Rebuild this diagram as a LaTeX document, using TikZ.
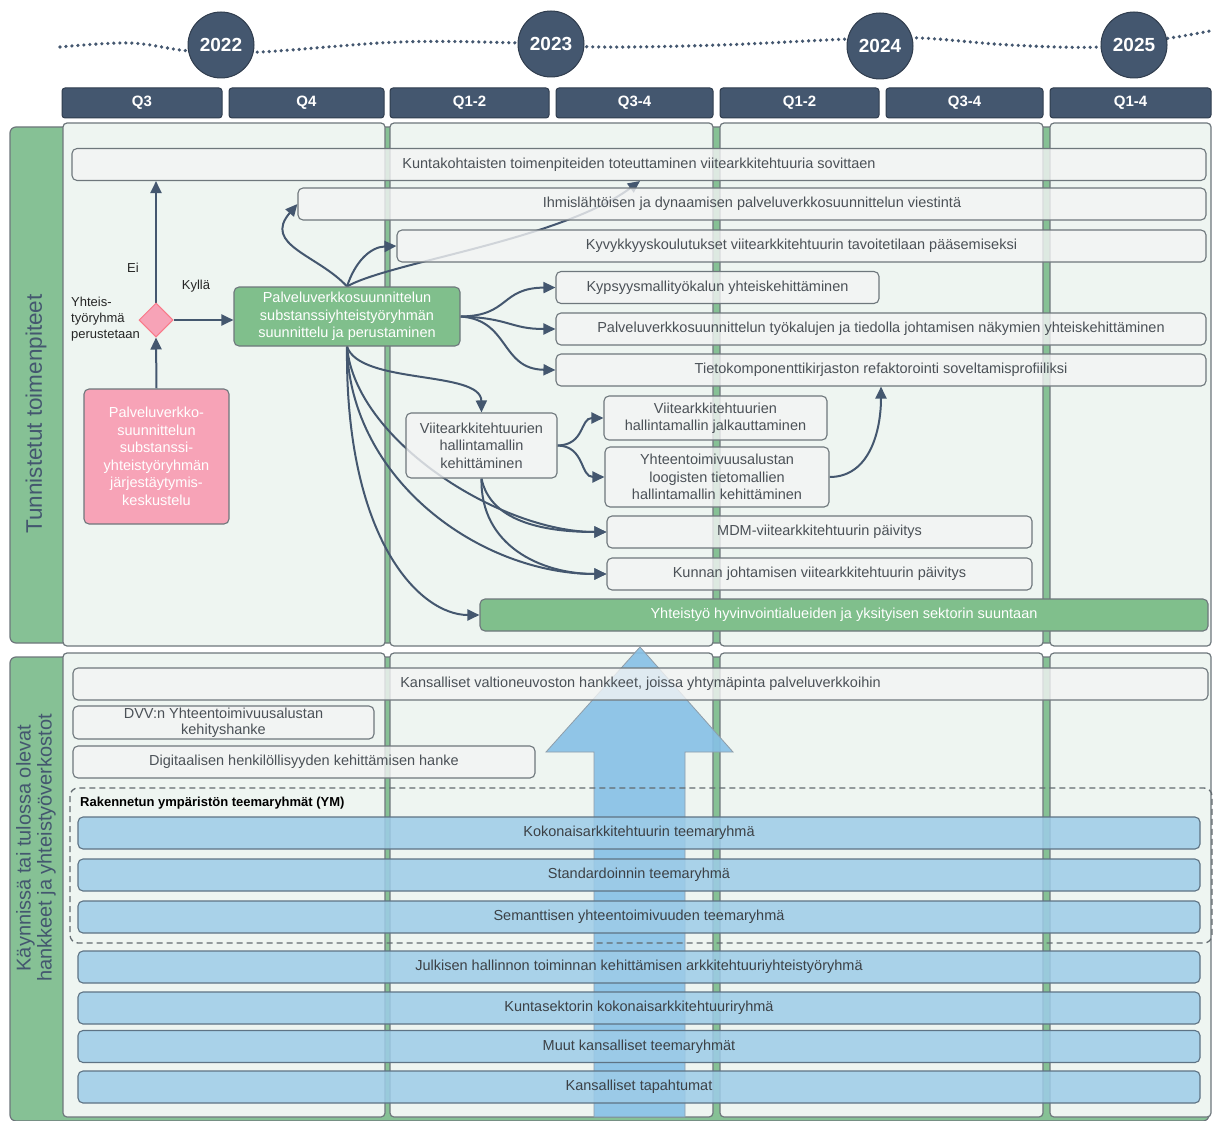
\documentclass[tikz,border=0pt]{standalone}
\usepackage{fontspec}
\setmainfont{Liberation Sans}
\usetikzlibrary{arrows.meta,shapes.geometric,positioning}
\definecolor{slate}{HTML}{44576F}
\definecolor{lanegreen}{HTML}{86C195}
\definecolor{panelfill}{HTML}{EEF5F1}
\definecolor{boxfill}{HTML}{F3F4F4}
\definecolor{edgegrey}{HTML}{6E777C}
\definecolor{txtgrey}{HTML}{4B5157}
\definecolor{taskgreen}{HTML}{80BF8C}
\definecolor{rose}{HTML}{F7A3B7}
\definecolor{skyblue}{HTML}{9DCCE8}
\definecolor{arrowblue}{HTML}{86C0E6}
\definecolor{blueedge}{HTML}{5E7384}
\pgfdeclarelayer{lanes}
\pgfdeclarelayer{links}
\pgfsetlayers{lanes,links,main}
\tikzset{
  yearball/.style={circle, fill=slate, draw=slate!70!black, line width=1pt, minimum size=66pt, inner sep=0pt, text=white, font=\bfseries\fontsize{19}{21}\selectfont},
  quarter/.style={rounded corners=3pt, fill=slate, draw=slate!70!black, line width=1pt, minimum height=30pt, inner sep=0pt, text=white, font=\bfseries\fontsize{15}{17}\selectfont},
  taskbox/.style={rounded corners=5pt, draw=edgegrey, fill=boxfill, fill opacity=0.8, text opacity=1, line width=1.1pt, minimum height=32pt, inner sep=0pt, text=txtgrey, align=center, font=\fontsize{14.5}{17.5}\selectfont},
  greentask/.style={taskbox, fill=taskgreen, fill opacity=1, text=white},
  pinktask/.style={taskbox, fill=rose, fill opacity=1, text=white},
  bluebar/.style={taskbox, fill=skyblue, draw=blueedge, fill opacity=0.85, text=txtgrey!80!black},
  decision/.style={diamond, fill=rose, draw=rose!75!red, line width=1pt, minimum size=34pt, inner sep=0pt},
  flow/.style={draw=slate, line width=2pt, -{Triangle[length=12pt,width=11pt]}},
  note/.style={inner sep=0pt, text=black!85, font=\fontsize{13}{16}\selectfont},
  lanelabel/.style={rotate=90, inner sep=0pt, text=slate, align=center}
}
\begin{document}
\begin{tikzpicture}[x=1pt,y=-1pt]
        \useasboundingbox (0,0) rectangle (1218,1121);
        \begin{pgfonlayer}{lanes}
        \fill[white] (0,0) rectangle (1218,1121);
        \draw[slate, line width=3.6pt, line cap=round, dash pattern=on 0pt off 6pt] plot[smooth, tension=0.6] coordinates{(60,47) (130,43) (190,51) (260,52) (400,42) (520,43) (600,47) (720,45) (850,39) (920,38) (1010,45) (1100,47) (1170,38) (1210,31)};
        \draw[edgegrey, fill=lanegreen, line width=1.2pt, rounded corners=6pt] (10,127) rectangle (1209,643);
        \draw[edgegrey, fill=lanegreen, line width=1.2pt, rounded corners=6pt] (10,657) rectangle (1209,1121);
        \foreach \xa/\xb in {63/385,390/713,720/1043,1050/1211}{
            \draw[edgegrey, fill=panelfill, line width=1.2pt, rounded corners=4pt] (\xa,123) rectangle (\xb,646);
            \draw[edgegrey, fill=panelfill, line width=1.2pt, rounded corners=4pt] (\xa,653) rectangle (\xb,1117);
        }
        \end{pgfonlayer}

        \node[yearball] (year22) at (221,45) {2022};
        \node[yearball] (year23) at (551,44) {2023};
        \node[yearball] (year24) at (880,46) {2024};
        \node[yearball] (year25) at (1134,45) {2025};

        \node[quarter, minimum width=160pt] (q22c) at (142,103) {Q3};
        \node[quarter, minimum width=155pt] (q22d) at (306.5,103) {Q4};
        \node[quarter, minimum width=159pt] (q23a) at (469.5,103) {Q1-2};
        \node[quarter, minimum width=157pt] (q23b) at (634.5,103) {Q3-4};
        \node[quarter, minimum width=159pt] (q24a) at (799.5,103) {Q1-2};
        \node[quarter, minimum width=157pt] (q24b) at (964.5,103) {Q3-4};
        \node[quarter, minimum width=161pt] (q25) at (1130.5,103) {Q1-4};

        \node[lanelabel, font=\fontsize{22.5}{24}\selectfont] (toimlabel) at (36,414) {Tunnistetut toimenpiteet};
        \node[lanelabel, font=\fontsize{20}{21}\selectfont] (hanklabel) at (36,848) {Käynnissä tai tulossa olevat\\hankkeet ja yhteistyöverkostot};

        \node[taskbox, minimum width=1134pt] (kunta) at (639,164.5) {Kuntakohtaisten toimenpiteiden toteuttaminen viitearkkitehtuuria sovittaen};
        \node[taskbox, minimum width=908pt] (ihmis) at (752,204) {Ihmislähtöisen ja dynaamisen palveluverkkosuunnittelun viestintä};
        \node[taskbox, minimum width=809pt] (kyvyk) at (801.5,246) {Kyvykkyyskoulutukset viitearkkitehtuurin tavoitetilaan pääsemiseksi};
        \node[taskbox, minimum width=323pt] (kyps) at (717.5,287.5) {Kypsyysmallityökalun yhteiskehittäminen};
        \node[taskbox, minimum width=650pt] (tyokalu) at (881,329) {Palveluverkkosuunnittelun työkalujen ja tiedolla johtamisen näkymien yhteiskehittäminen};
        \node[taskbox, minimum width=650pt] (tieto) at (881,370) {Tietokomponenttikirjaston refaktorointi soveltamisprofiiliksi};
        \node[taskbox, minimum width=223pt, minimum height=44pt] (jalk) at (715.5,418) {Viitearkkitehtuurien\\hallintamallin jalkauttaminen};
        \node[taskbox, minimum width=151pt, minimum height=65pt] (hall) at (481.5,445.5) {Viitearkkitehtuurien\\hallintamallin\\kehittäminen};
        \node[taskbox, minimum width=224pt, minimum height=60pt] (yhtmalli) at (717,477) {Yhteentoimivuusalustan\\loogisten tietomallien\\hallintamallin kehittäminen};
        \node[taskbox, minimum width=425pt] (mdm) at (819.5,532) {MDM-viitearkkitehtuurin päivitys};
        \node[taskbox, minimum width=425pt] (kunnan) at (819.5,574) {Kunnan johtamisen viitearkkitehtuurin päivitys};
        \node[greentask, minimum width=728pt] (yhteis) at (844,615) {Yhteistyö hyvinvointialueiden ja yksityisen sektorin suuntaan};
        \node[greentask, minimum width=226pt, minimum height=59pt] (plan) at (347,316.5) {Palveluverkkosuunnittelun\\substanssiyhteistyöryhmän\\suunnittelu ja perustaminen};
        \node[pinktask, minimum width=145pt, minimum height=135pt] (jarj) at (156.5,456.5) {Palveluverkko-\\suunnittelun\\substanssi-\\yhteistyöryhmän\\järjestäytymis-\\keskustelu};
        \node[decision] (dec) at (156,320) {};
        \node[note] (eilabel) at (133,268) {Ei};
        \node[note] (kyllalabel) at (196,286) {Kyllä};
        \node[note, anchor=west, align=left] (perustlabel) at (71,319) {Yhteis-\\työryhmä\\perustetaan};
        \coordinate (kuntain) at (640,181);

        \draw[edgegrey!90!black, line width=1.3pt, dash pattern=on 6pt off 4pt, rounded corners=8pt] (70,788) rectangle (1212,943);
        \node[anchor=west, inner sep=0pt, text=black, font=\bfseries\fontsize{13}{15}\selectfont] (ymlabel) at (80,803) {Rakennetun ympäristön teemaryhmät (YM)};

        \node[taskbox, minimum width=1135pt] (kansal) at (640.5,684) {Kansalliset valtioneuvoston hankkeet, joissa yhtymäpinta palveluverkkoihin};
        \node[taskbox, minimum width=301pt, minimum height=33pt, font=\fontsize{14.5}{16}\selectfont] (dvv) at (223.5,722.5) {DVV:n Yhteentoimivuusalustan\\kehityshanke};
        \node[taskbox, minimum width=462pt] (digi) at (304,762) {Digitaalisen henkilöllisyyden kehittämisen hanke};
        \node[bluebar, minimum width=1122pt] (kokon) at (639,833) {Kokonaisarkkitehtuurin teemaryhmä};
        \node[bluebar, minimum width=1122pt] (stand) at (639,875) {Standardoinnin teemaryhmä};
        \node[bluebar, minimum width=1122pt] (seman) at (639,917) {Semanttisen yhteentoimivuuden teemaryhmä};
        \node[bluebar, minimum width=1122pt] (julk) at (639,967) {Julkisen hallinnon toiminnan kehittämisen arkkitehtuuriyhteistyöryhmä};
        \node[bluebar, minimum width=1122pt] (kuntas) at (639,1008) {Kuntasektorin kokonaisarkkitehtuuriryhmä};
        \node[bluebar, minimum width=1122pt] (muut) at (639,1046.5) {Muut kansalliset teemaryhmät};
        \node[bluebar, minimum width=1122pt] (tapaht) at (639,1087) {Kansalliset tapahtumat};

        \begin{pgfonlayer}{links}
        \draw[fill=arrowblue, fill opacity=0.9, draw=blueedge!70, line width=0.8pt] (594,1117) -- (594,752) -- (546,752) -- (640,647) -- (733,752) -- (685,752) -- (685,1117) -- cycle;
        \draw[flow] (jarj.north) -- (dec.south);
        \draw[flow] (dec.north) -- (dec.north |- kunta.south);
        \draw[flow] (dec.east) -- (dec.east -| plan.west);
        \draw[flow] (plan.north) .. controls (318,255) and (262,245) .. (ihmis.west);
        \draw[flow] (plan.north) .. controls (355,262) and (370,247) .. (kyvyk.west);
        \draw[flow] (plan.north) .. controls (390,262) and (560,240) .. (kuntain);
        \draw[flow] (plan.east) .. controls (510,316) and (500,288) .. (kyps.west);
        \draw[flow] (plan.east) .. controls (510,318) and (510,329) .. (tyokalu.west);
        \draw[flow] (plan.east) .. controls (510,320) and (500,369) .. (tieto.west);
        \draw[flow] (plan.south) .. controls (360,385) and (481,370) .. (hall.north);
        \draw[flow] (plan.south) .. controls (355,440) and (500,532) .. (mdm.west);
        \draw[flow] (plan.south) .. controls (350,480) and (480,574) .. (kunnan.west);
        \draw[flow] (plan.south) .. controls (345,540) and (420,615) .. (yhteis.west);
        \draw[flow] (hall.south) .. controls (490,520) and (540,532) .. (mdm.west);
        \draw[flow] (hall.south) .. controls (480,545) and (540,574) .. (kunnan.west);
        \draw[flow] (hall.east) .. controls (585,445) and (580,418) .. (jalk.west);
        \draw[flow] (hall.east) .. controls (585,446) and (580,477) .. (yhtmalli.west);
        \draw[flow] (yhtmalli.east) .. controls (870,477) and (881,430) .. (tieto.south);
        \end{pgfonlayer}
\end{tikzpicture}
\end{document}
